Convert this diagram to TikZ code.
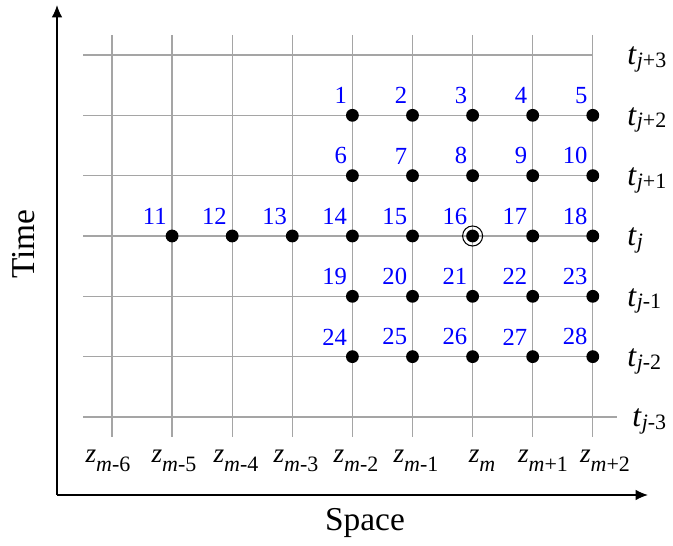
\documentclass[tikz,border=0pt]{standalone}
\usepackage{fontspec}
\setmainfont{Liberation Serif}
\usepackage{xcolor}
\usetikzlibrary{positioning,arrows.meta}
\definecolor{gridgray}{RGB}{165,165,165}
\definecolor{numblue}{RGB}{0,0,255}
\newcommand{\zlab}[1]{{\fontsize{15.5}{16}\selectfont\textit{z}}\raisebox{-4.8pt}{\fontsize{12.5}{13}\selectfont\textit{m}#1}}
\newcommand{\tlab}[1]{{\fontsize{18}{19}\selectfont\textit{t}}\raisebox{-1.5pt}{\fontsize{12.5}{13}\selectfont\textit{j}#1}}

\begin{document}
\begin{tikzpicture}[x=0.02cm, y=-0.02cm,
  dot/.style={circle, fill=black, inner sep=0pt, minimum size=7.3pt},
  ring/.style={circle, draw=black, line width=0.6pt, inner sep=0pt, minimum size=11.4pt},
  numlab/.style={text=numblue, inner sep=0pt, font=\fontsize{14}{15}\selectfont},
  gridline/.style={gridgray, line width=0.7pt},
  axis/.style={line width=0.8pt, -{Latex[length=7pt,width=6pt]}}]
  \useasboundingbox (0,0) rectangle (673,546);

  % grid
  \foreach \i in {0,...,8}
    \draw[gridline] ({112+60.1*\i},35) -- ({112+60.1*\i},437);
  \foreach \r in {0,...,5}
    \draw[gridline] (83,{55+60.33*\r}) -- (593,{55+60.33*\r});
  \draw[gridline] (83,417) -- (617,417);

  % axes
  \coordinate (origin) at (57,495);
  \coordinate (ytip) at (57,5);
  \coordinate (xtip) at (648,495);
  \draw[axis] (origin) -- (ytip);
  \draw[axis] (origin) -- (xtip);
  \node[rotate=90, font=\fontsize{19}{20}\selectfont] (timelab) at (24,244) {Time};
  \node[font=\fontsize{19}{20}\selectfont] (spacelab) at (365,523) {Space};

  % grid points
  \foreach \r/\first in {1/1,2/6,4/19,5/24} {
    \foreach \i [count=\k from 0] in {4,...,8} {
      \pgfmathtruncatemacro\n{\first+\k}
      \node[dot] (d\n) at ({112+60.1*\i},{55+60.33*\r}) {};
      \node[numlab, above left=6.3pt and 2.9pt of d\n.center] (n\n) {\n};
    }
  }
  \foreach \i [count=\k from 0] in {1,...,8} {
    \pgfmathtruncatemacro\n{11+\k}
    \node[dot] (d\n) at ({112+60.1*\i},{55+60.33*3}) {};
    \node[numlab, above left=6.3pt and 2.9pt of d\n.center] (n\n) {\n};
  }
  \node[ring] (r16) at (d16.center) {};

  % time labels
  \foreach \r/\s in {0/+3,1/+2,2/+1,3/,4/-1,5/-2} {
    \node[anchor=base west, inner sep=0pt] (t\r) at (627,{65+60.33*\r}) {\tlab{\s}};
  }
  \node[anchor=base west, inner sep=0pt] (t6) at (632,427) {\tlab{-3}};

  % space labels
  \foreach \x/\s in {108/-6,174/-5,236/-4,296/-3,356/-2,416/-1,482/,543/+1,605/+2} {
    \node[anchor=base, inner sep=0pt] at (\x,463) {\zlab{\s}};
  }
\end{tikzpicture}
\end{document}
